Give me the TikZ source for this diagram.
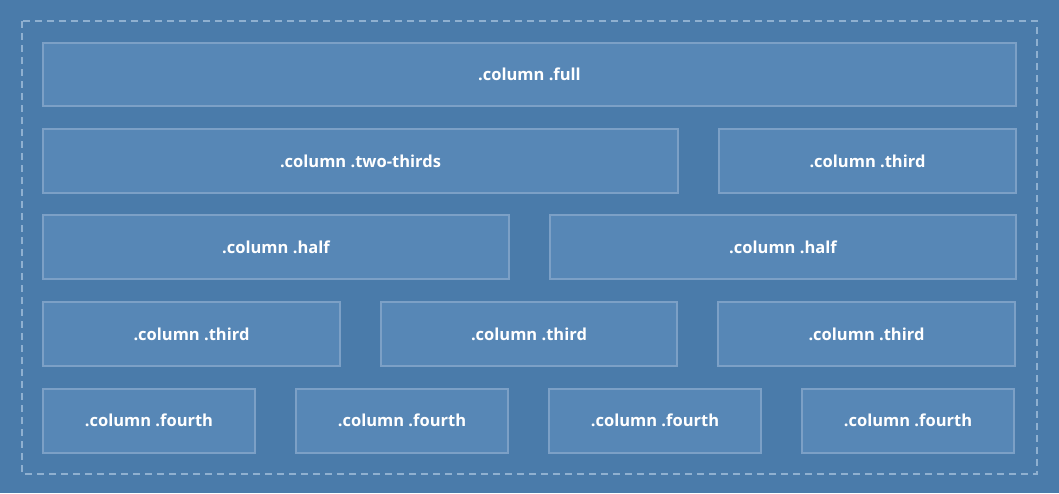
\documentclass[tikz,border=0pt]{standalone}
\usepackage{fontspec}
\setmainfont{Open Sans}
\usepackage{tikz}
\definecolor{pagebg}{HTML}{4A7BAA}
\definecolor{boxfill}{HTML}{5787B6}
\definecolor{boxline}{HTML}{7CA0C6}
\definecolor{dashline}{HTML}{8FB0D0}
\tikzset{
  colbox/.style={draw=boxline, fill=boxfill, line width=2pt, minimum height=64pt,
    inner sep=0pt, text=white, font=\fontsize{16.5}{18}\selectfont\bfseries}
}

\begin{document}
\begin{tikzpicture}[x=1pt,y=-1pt]
  \fill[pagebg] (0,0) rectangle (1059,493);
  \useasboundingbox (0,0) rectangle (1059,493);
  \draw[dashline, line width=2pt, dash pattern=on 7pt off 5pt] (22,21) rectangle (1037,474);
  % row 1
  \node[colbox, minimum width=973pt, minimum height=63pt] (full) at (529.5,74.5) {.column .full};
  % row 2
  \node[colbox, minimum width=635pt] (twothirds) at (360.5,161) {.column .two-thirds};
  \node[colbox, minimum width=297pt] (thirdA) at (867.5,161) {.column .third};
  % row 3
  \node[colbox, minimum width=466pt] (halfA) at (276,247) {.column .half};
  \node[colbox, minimum width=466pt] (halfB) at (783,247) {.column .half};
  % row 4
  \node[colbox, minimum width=297pt] (thirdB) at (191.5,334) {.column .third};
  \node[colbox, minimum width=296pt] (thirdC) at (529,334) {.column .third};
  \node[colbox, minimum width=297pt] (thirdD) at (866.5,334) {.column .third};
  % row 5
  \foreach \cx [count=\i] in {149,402,655,908}
    \node[colbox, minimum width=212pt] (fourth\i) at (\cx,420.5) {.column .fourth};
\end{tikzpicture}
\end{document}
